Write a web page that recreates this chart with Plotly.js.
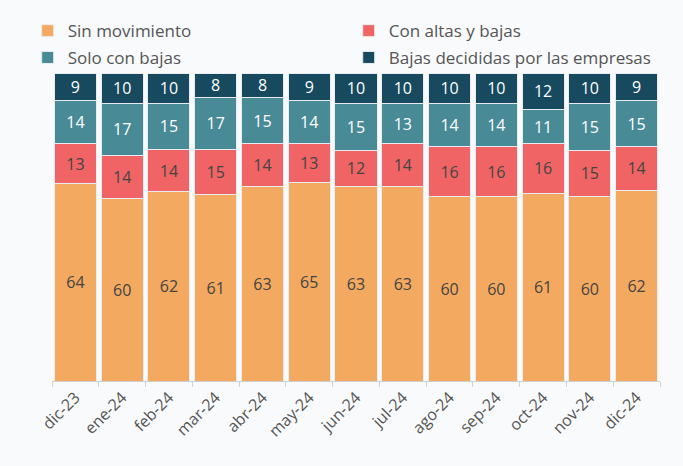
<!DOCTYPE html>
<html>
<head>
<meta charset="utf-8">
<script src="https://cdn.plot.ly/plotly-3.0.1.min.js"></script>
<style>html,body{margin:0;padding:0;background:#f9fafc;}#chart{width:683px;height:466px;}</style>
</head>
<body>
<div id="chart"></div>
<script>
var months = ["dic-23","ene-24","feb-24","mar-24","abr-24","may-24","jun-24","jul-24","ago-24","sep-24","oct-24","nov-24","dic-24"];
var sinMovimiento = [64,60,62,61,63,65,63,63,60,60,61,60,62];
var conAltasBajas = [13,14,14,15,14,13,12,14,16,16,16,15,14];
var soloBajas = [14,17,15,17,15,14,15,13,14,14,11,15,15];
var bajasEmpresas = [9,10,10,8,8,9,10,10,10,10,12,10,9];

var FONT = "Open Sans, sans-serif";
function mk(name, vals, color, txtColor, leg) {
  return {
    type: "bar", name: name, x: months, y: vals, legend: leg,
    text: vals.map(String), texttemplate: "%{text}",
    textposition: "inside", insidetextanchor: "middle", textangle: 0,
    textfont: {family: FONT, size: 16, color: txtColor},
    marker: {color: color, line: {color: "#e8ecf0", width: 1}},
    hoverinfo: "x+y+name"
  };
}
var data = [
  mk("Sin movimiento", sinMovimiento, "#f3a95f", "#444444", "legend"),
  mk("Con altas y bajas", conAltasBajas, "#f06465", "#444444", "legend2"),
  mk("Solo con bajas", soloBajas, "#488a96", "#ffffff", "legend3"),
  mk("Bajas decididas por las empresas", bajasEmpresas, "#17495f", "#ffffff", "legend4")
];
function leg(x, y) {
  return {
    x: x, xanchor: "left", y: y, yanchor: "middle",
    font: {family: FONT, size: 17, color: "#555555"},
    bgcolor: "rgba(0,0,0,0)", borderwidth: 0, itemclick: false
  };
}
var layout = {
  width: 683, height: 466,
  barmode: "stack", barnorm: "percent", bargap: 0.1,
  uniformtext: {minsize: 16, mode: "show"},
  paper_bgcolor: "#f9fafc", plot_bgcolor: "#f9fafc",
  margin: {l: 52, r: 23, t: 73, b: 85},
  font: {family: FONT, color: "#555555", size: 15},
  showlegend: true,
  legend: leg(-0.04, 1.136),
  legend2: leg(0.488, 1.136),
  legend3: leg(-0.04, 1.049),
  legend4: leg(0.488, 1.049),
  xaxis: {
    type: "category", showline: true, linecolor: "#d0d0d0", linewidth: 1,
    ticks: "outside", tickson: "boundaries", ticklen: 5, tickcolor: "#d0d0d0",
    tickangle: -45, tickfont: {family: FONT, size: 16, color: "#555555"},
    showgrid: false, fixedrange: true
  },
  yaxis: {visible: false, range: [0, 100], showgrid: false, zeroline: false, fixedrange: true}
};
Plotly.newPlot("chart", data, layout, {displayModeBar: false, staticPlot: true});
</script>
</body>
</html>
